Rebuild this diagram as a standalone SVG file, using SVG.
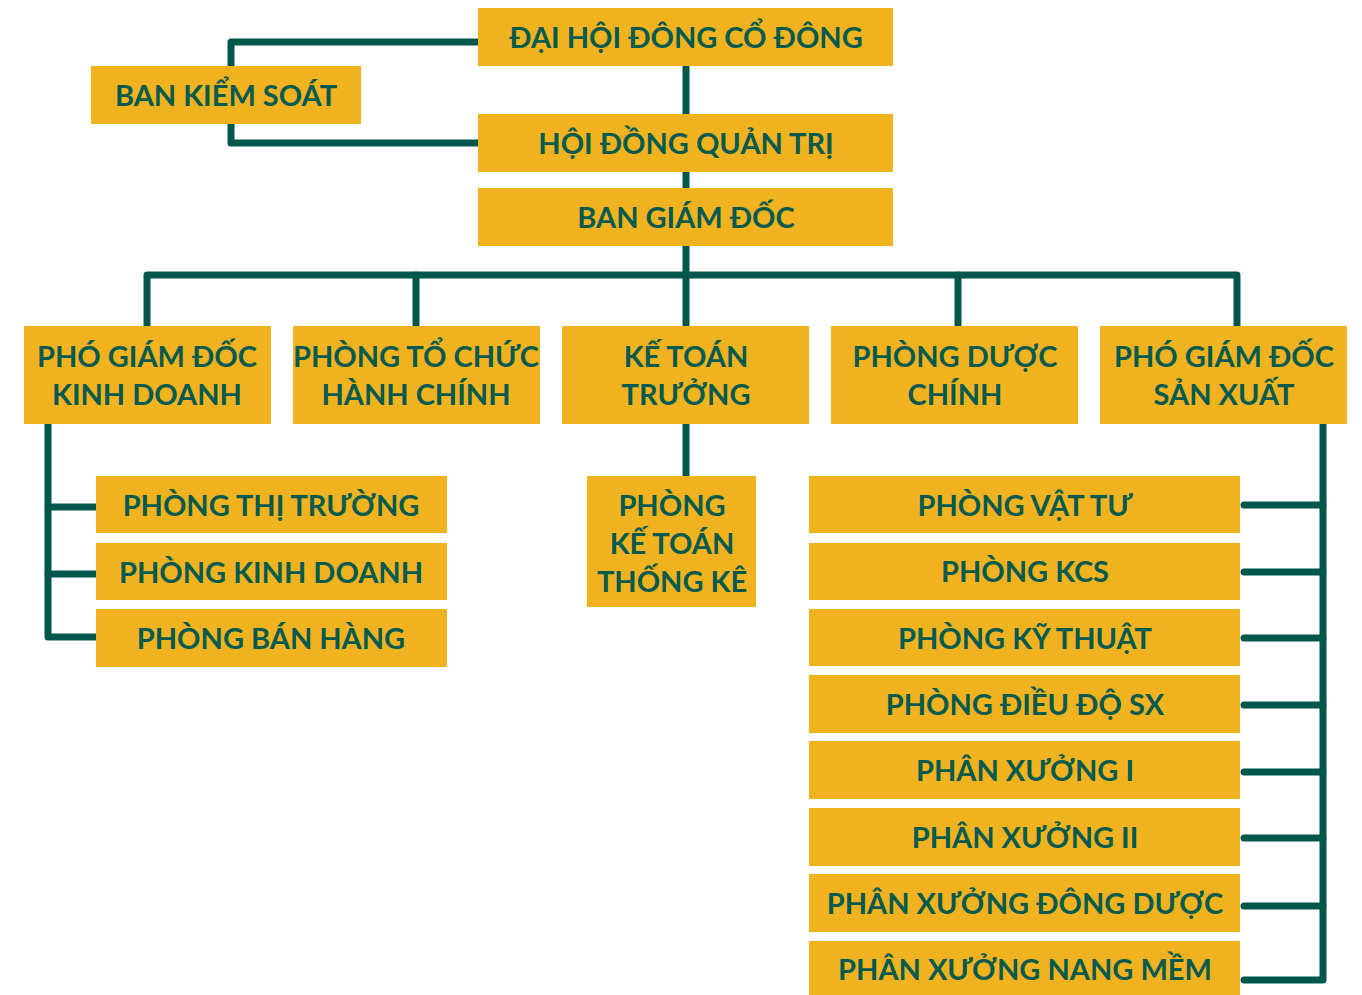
<svg xmlns="http://www.w3.org/2000/svg" width="1362" height="995" viewBox="0 0 1362 995">
<style>
.b{fill:#F0B21E}
.t{font-family:"Lato","Open Sans",sans-serif;font-weight:bold;font-size:29px;fill:#045A4E;text-anchor:middle}
.c{fill:none;stroke:#02574D;stroke-width:7;stroke-linecap:round;stroke-linejoin:round}
</style>
<rect width="1362" height="995" fill="#fff"/>
<g id="connectors">
<path class="c" d="M478,42 H231 V143 H478"/>
<path class="c" d="M686,66 V275"/>
<path class="c" d="M147,326 V275 H1237 V326"/>
<path class="c" d="M416,275 V326"/>
<path class="c" d="M686,275 V326"/>
<path class="c" d="M958,275 V326"/>
<path class="c" d="M48,424 V637 H96"/>
<path class="c" d="M48,507 H96 M48,574 H96"/>
<path class="c" d="M686,424 V476"/>
<path class="c" d="M1323,424 V980 H1244"/>
<path class="c" d="M1244,505 H1323 M1244,572 H1323 M1244,638 H1323 M1244,705 H1323 M1244,772 H1323 M1244,838 H1323 M1244,906 H1323"/>
</g>
<g id="dhdcd"><rect class="b" x="478" y="8" width="415" height="58"/><text class="t" x="686" y="48">ĐẠI HỘI ĐÔNG CỔ ĐÔNG</text></g>
<g id="bks"><rect class="b" x="91" y="66" width="270" height="58"/><text class="t" x="226" y="106">BAN KIỂM SOÁT</text></g>
<g id="hdqt"><rect class="b" x="478" y="114" width="415" height="58"/><text class="t" x="686" y="154">HỘI ĐỒNG QUẢN TRỊ</text></g>
<g id="bgd"><rect class="b" x="478" y="188" width="415" height="58"/><text class="t" x="686" y="228">BAN GIÁM ĐỐC</text></g>
<g id="pgdkd"><rect class="b" x="24" y="326" width="247" height="98"/><text class="t" x="147" y="367">PHÓ GIÁM ĐỐC</text><text class="t" x="147" y="405">KINH DOANH</text></g>
<g id="ptchc"><rect class="b" x="293" y="326" width="247" height="98"/><text class="t" x="416" y="367">PHÒNG TỔ CHỨC</text><text class="t" x="416" y="405">HÀNH CHÍNH</text></g>
<g id="ktt"><rect class="b" x="562" y="326" width="247" height="98"/><text class="t" x="686" y="367">KẾ TOÁN</text><text class="t" x="686" y="405">TRƯỞNG</text></g>
<g id="pdc"><rect class="b" x="831" y="326" width="247" height="98"/><text class="t" x="955" y="367">PHÒNG DƯỢC</text><text class="t" x="955" y="405">CHÍNH</text></g>
<g id="pgdsx"><rect class="b" x="1100" y="326" width="247" height="98"/><text class="t" x="1224" y="367">PHÓ GIÁM ĐỐC</text><text class="t" x="1224" y="405">SẢN XUẤT</text></g>
<g id="ptt"><rect class="b" x="96" y="476" width="351" height="57"/><text class="t" x="271" y="516">PHÒNG THỊ TRƯỜNG</text></g>
<g id="pkd"><rect class="b" x="96" y="543" width="351" height="57"/><text class="t" x="271" y="583">PHÒNG KINH DOANH</text></g>
<g id="pbh"><rect class="b" x="96" y="609" width="351" height="58"/><text class="t" x="271" y="649">PHÒNG BÁN HÀNG</text></g>
<g id="pktk"><rect class="b" x="587" y="476" width="169" height="131"/><text class="t" x="672" y="516">PHÒNG</text><text class="t" x="672" y="554">KẾ TOÁN</text><text class="t" x="672" y="592">THỐNG KÊ</text></g>
<g id="pvt"><rect class="b" x="809" y="476" width="431" height="57"/><text class="t" x="1025" y="516">PHÒNG VẬT TƯ</text></g>
<g id="pkcs"><rect class="b" x="809" y="543" width="431" height="57"/><text class="t" x="1025" y="582">PHÒNG KCS</text></g>
<g id="pkt"><rect class="b" x="809" y="609" width="431" height="57"/><text class="t" x="1025" y="649">PHÒNG KỸ THUẬT</text></g>
<g id="pddsx"><rect class="b" x="809" y="675" width="431" height="58"/><text class="t" x="1025" y="715">PHÒNG ĐIỀU ĐỘ SX</text></g>
<g id="px1"><rect class="b" x="809" y="741" width="431" height="58"/><text class="t" x="1025" y="781">PHÂN XƯỞNG I</text></g>
<g id="px2"><rect class="b" x="809" y="808" width="431" height="58"/><text class="t" x="1025" y="848">PHÂN XƯỞNG II</text></g>
<g id="pxdd"><rect class="b" x="809" y="874" width="431" height="58"/><text class="t" x="1025" y="914">PHÂN XƯỞNG ĐÔNG DƯỢC</text></g>
<g id="pxnm"><rect class="b" x="809" y="941" width="431" height="54"/><text class="t" x="1025" y="980">PHÂN XƯỞNG NANG MỀM</text></g>
</svg>
